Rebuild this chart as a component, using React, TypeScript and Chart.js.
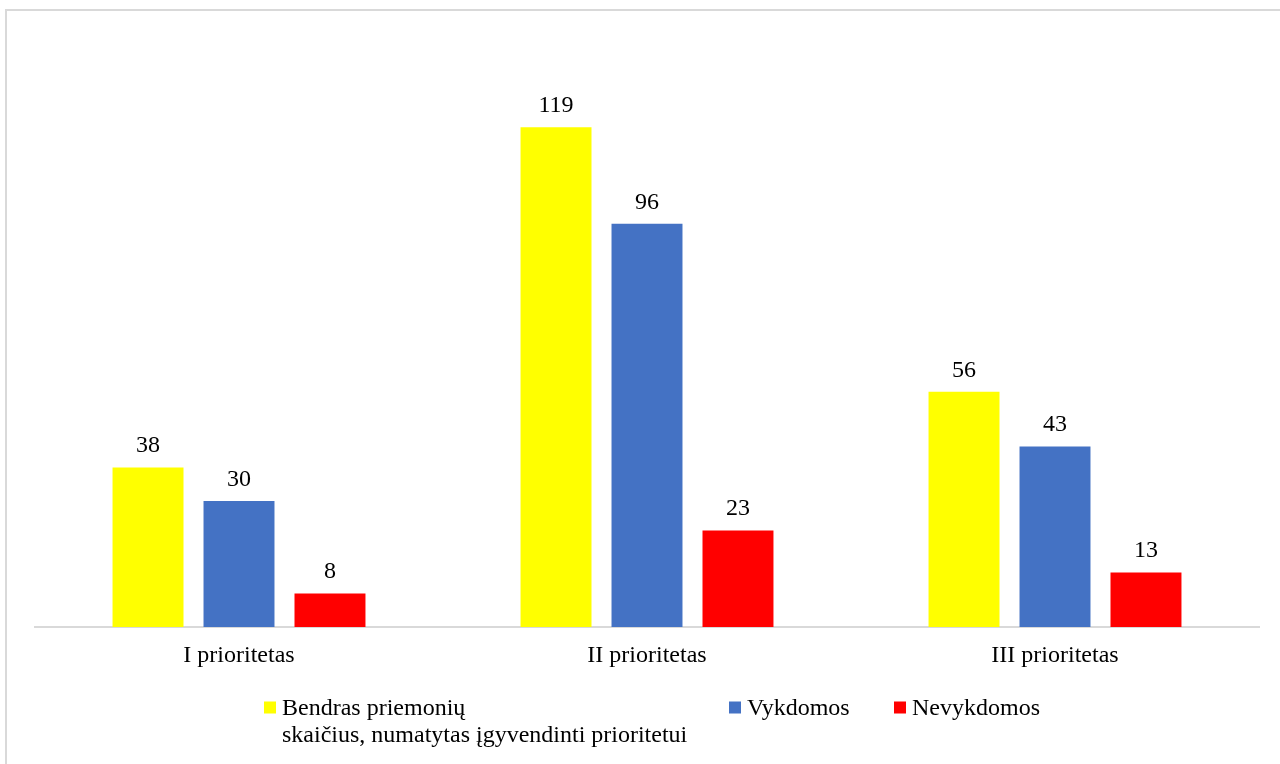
import React, { useEffect, useRef } from "react";
import { Chart, registerables } from "chart.js";

Chart.register(...registerables);

const categories = ["I prioritetas", "II prioritetas", "III prioritetas"];
const seriesLabels = [
  "Bendras priemonių\nskaičius, numatytas įgyvendinti prioritetui",
  "Vykdomos",
  "Nevykdomos",
];
const totalValues = [38, 119, 56];
const runningValues = [30, 96, 43];
const notRunningValues = [8, 23, 13];
const seriesColors = ["#FFFF00", "#4472C4", "#FF0000"];

const FONT = '"Liberation Serif", "Times New Roman", serif';

const dataLabelPlugin = {
  id: "dataLabels",
  afterDatasetsDraw(chart: any) {
    const ctx = chart.ctx;
    ctx.save();
    ctx.font = `24px ${FONT}`;
    ctx.fillStyle = "#000";
    ctx.textAlign = "center";
    ctx.textBaseline = "alphabetic";
    chart.data.datasets.forEach((ds: any, i: number) => {
      const meta = chart.getDatasetMeta(i);
      meta.data.forEach((el: any, j: number) => {
        ctx.fillText(String(ds.data[j]), el.x, el.y - 15);
      });
    });
    ctx.restore();
  },
};

const legendX = [257, 722, 887];
const legendTop = 690.5;
const legendBaseline = 704;
const legendLineHeight = 27;

const customLegendPlugin = {
  id: "customLegend",
  afterDraw(chart: any) {
    const ctx = chart.ctx;
    ctx.save();
    ctx.font = `24px ${FONT}`;
    ctx.textAlign = "left";
    ctx.textBaseline = "alphabetic";
    chart.data.datasets.forEach((ds: any, i: number) => {
      const x = legendX[i];
      ctx.fillStyle = ds.backgroundColor;
      ctx.fillRect(x, legendTop, 12, 12);
      ctx.fillStyle = "#000";
      String(ds.label)
        .split("\n")
        .forEach((line: string, k: number) => {
          ctx.fillText(line, x + 18, legendBaseline + k * legendLineHeight);
        });
    });
    ctx.restore();
  },
};

export default function App() {
  const ref = useRef<HTMLCanvasElement | null>(null);

  useEffect(() => {
    if (!ref.current) return;
    const chart = new Chart(ref.current, {
      type: "bar",
      data: {
        labels: categories,
        datasets: [
          { label: seriesLabels[0], data: totalValues, backgroundColor: seriesColors[0] },
          { label: seriesLabels[1], data: runningValues, backgroundColor: seriesColors[1] },
          { label: seriesLabels[2], data: notRunningValues, backgroundColor: seriesColors[2] },
        ],
      },
      options: {
        responsive: false,
        animation: false,
        layout: { padding: { left: 28, right: 38, top: 28, bottom: 0 } },
        datasets: {
          bar: { categoryPercentage: 0.669, barPercentage: 0.78 },
        },
        plugins: {
          legend: { display: false },
          tooltip: { enabled: false },
        },
        scales: {
          x: {
            grid: { display: false, drawTicks: false },
            border: { display: true, color: "#d9d9d9", width: 2 },
            ticks: {
              color: "#000",
              font: { family: FONT, size: 24 },
              padding: 14,
            },
            afterFit(scale: any) {
              scale.height = 144;
            },
          },
          y: {
            display: false,
            min: 0,
            max: 140,
          },
        },
      } as any,
      plugins: [dataLabelPlugin, customLegendPlugin],
    });
    return () => chart.destroy();
  }, []);

  return (
    <div
      style={{
        position: "fixed",
        left: 5,
        top: 9,
        width: 1300,
        height: 800,
        border: "2px solid #d9d9d9",
        background: "#fff",
      }}
    >
      <canvas ref={ref} width={1290} height={760} style={{ display: "block", width: 1290, height: 760 }} />
    </div>
  );
}
